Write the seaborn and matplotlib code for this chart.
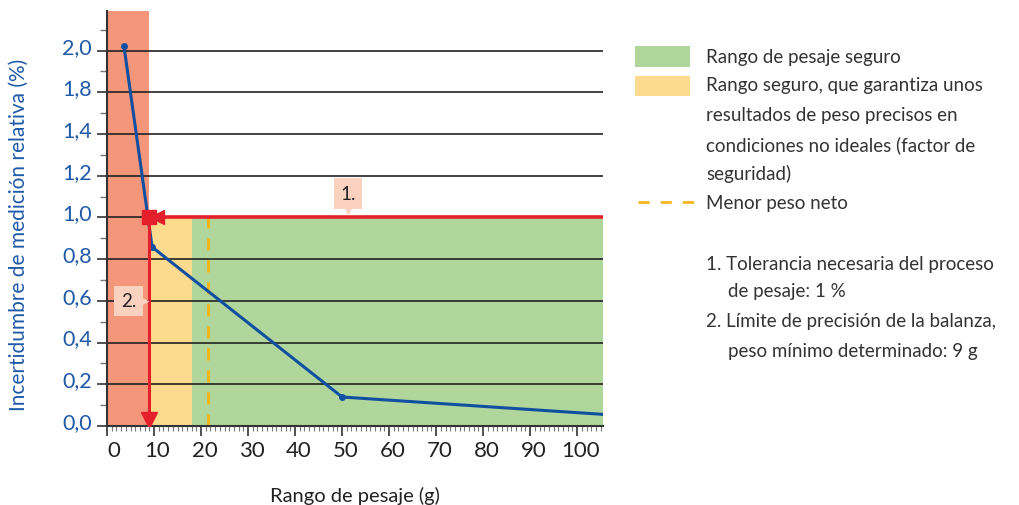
import matplotlib
matplotlib.use("Agg")
import matplotlib.pyplot as plt
import matplotlib.transforms as mtransforms
import seaborn as sns
import pandas as pd
from matplotlib.patches import Rectangle
from matplotlib.lines import Line2D
from matplotlib.ticker import MultipleLocator

# ---------------- data ----------------
weight_g = [3.6, 9.6, 50, 106]
uncertainty = [1.823, 0.858, 0.139, 0.055]
ytick_values = [0.0, 0.2, 0.4, 0.6, 0.8, 1.0, 1.2, 1.4, 1.6, 1.8]
ytick_labels = ["0,0", "0,2", "0,4", "0,6", "0,8", "1,0", "1,2", "1,4", "1,8", "2,0"]
xtick_values = [0, 10, 20, 30, 40, 50, 60, 70, 80, 90, 100]
min_weight = 9          # límite de precisión
safety_weight = 18      # fin del rango con factor de seguridad
net_weight = 21.5       # menor peso neto
tolerance = 1.0         # tolerancia 1 %
x_max = 105.5
y_max = 1.99

legend_items = ["Rango de pesaje seguro",
                "Rango seguro, que garantiza unos",
                "resultados de peso precisos en",
                "condiciones no ideales (factor de",
                "seguridad)",
                "Menor peso neto"]
notes = ["1. Tolerancia necesaria del proceso",
         "de pesaje: 1 %",
         "2. Límite de precisión de la balanza,",
         "peso mínimo determinado: 9 g"]

# ---------------- style ----------------
sns.set_style("ticks")
plt.rcParams['font.family'] = ['Lato', 'DejaVu Sans']

RED_BAND = "#F4967A"
YELLOW = "#FDDB8E"
GREEN = "#B0D69C"
RED = "#E3202B"
ORANGE = "#F3B71E"
BLUE = "#1150A0"
TXT = "#333333"
LBLUE = "#1F5AA8"

fig = plt.figure(figsize=(10.19, 5.06), dpi=100)
ax = fig.add_axes([107/1019, 1-427/506, 496/1019, 415/506])

# bands
ax.axvspan(0, min_weight, color=RED_BAND, lw=0, zorder=0.5)
ax.fill_between([min_weight, safety_weight], 0, tolerance, color=YELLOW, lw=0, zorder=0.5)
ax.fill_between([safety_weight, x_max], 0, tolerance, color=GREEN, lw=0, zorder=0.5)

# grid lines
for yv in ytick_values[1:]:
    ax.axhline(yv, color="#222222", lw=1.2, zorder=1.5)

# net weight dashed line
ax.plot([net_weight, net_weight], [0, tolerance], color=ORANGE, lw=2.2,
        dashes=(4, 3.2), zorder=1.8)

# blue uncertainty curve
df = pd.DataFrame({"w": weight_g, "u": uncertainty})
sns.lineplot(data=df, x="w", y="u", ax=ax, color=BLUE, lw=2.2, zorder=3,
             marker="o", markersize=5, markeredgewidth=0, markevery=[0, 1, 2])

# red tolerance line & min weight line
ax.plot([min_weight, x_max], [tolerance, tolerance], color=RED, lw=2.6, zorder=4,
        solid_capstyle="butt")
ax.plot([min_weight, min_weight], [0.05, tolerance], color=RED, lw=2.2, zorder=4)
ax.plot([min_weight], [tolerance], marker="s", ms=9.5, color=RED, mec=RED, zorder=5)
ax.plot([min_weight + 1.6], [tolerance], marker="<", ms=10, color=RED, mec=RED, zorder=5)
ax.plot([min_weight], [0.03], marker="v", ms=11, color=RED, mec=RED, zorder=5)

# callout boxes
BOX = "#FBD2C0"
ax.text(51.3, 1.115, "1.", ha="center", va="center", fontsize=13.5, color="#222222",
        bbox=dict(boxstyle="square,pad=0.35", fc=BOX, ec="none"), zorder=6)
ax.plot([51.3], [1.035], marker="v", ms=7, color=BOX, mec="none", zorder=6)
ax.text(4.6, 0.6, "2.", ha="center", va="center", fontsize=13.5, color="#222222",
        bbox=dict(boxstyle="square,pad=0.35", fc=BOX, ec="none"), zorder=6)
ax.plot([7.9], [0.6], marker=">", ms=7, color=BOX, mec="none", zorder=6)

# axes
ax.set_xlim(0, x_max)
ax.set_ylim(0, y_max)
ax.set_xticks(xtick_values)
ax.set_xticklabels([str(v) for v in xtick_values], fontsize=16, color="#222222")
ax.xaxis.set_minor_locator(MultipleLocator(1))
ax.set_yticks(ytick_values)
ax.set_yticklabels(ytick_labels, fontsize=15.5, color=LBLUE)
ax.yaxis.set_minor_locator(MultipleLocator(0.1))
ax.tick_params(axis="both", which="major", length=7, width=1.2, color="#333333", direction="out")
ax.tick_params(axis="y", which="minor", length=5, width=1.0, color="#777777", direction="out")
ax.tick_params(axis="x", which="minor", length=3.5, width=0.8, color="#777777", direction="out")
ax.tick_params(axis="y", which="major", pad=4)
ax.tick_params(axis="x", which="major", pad=3)
sns.despine(ax=ax)
for s in ["left", "bottom"]:
    ax.spines[s].set_color("#333333")
    ax.spines[s].set_linewidth(1.5)

# y tick labels sit slightly above their grid lines
up = mtransforms.ScaledTranslation(0, 0.06, fig.dpi_scale_trans)
for lab in ax.get_yticklabels():
    lab.set_transform(lab.get_transform() + up)
# x tick labels sit slightly right of their ticks
xl = ax.get_xticklabels()
for i, lab in enumerate(xl):
    dx = 0.065 if i == 0 else 0.035
    lab.set_transform(lab.get_transform() + mtransforms.ScaledTranslation(dx, 0, fig.dpi_scale_trans))

ax.set_xlabel("Rango de pesaje (g)", fontsize=14.5, color="#222222")
ax.xaxis.set_label_coords(0.5, -0.145)
ax.set_ylabel("Incertidumbre de medición relativa (%)", fontsize=15, color=LBLUE)
ax.yaxis.set_label_coords(-0.158, 0.463)

# legend (manual)
def fx(px):
    return px / 1019
def fy(py):
    return 1 - py / 506

fig.patches.append(Rectangle((fx(635), fy(68)), fx(690) - fx(635), fy(47) - fy(68),
                             transform=fig.transFigure, color=GREEN, lw=0))
fig.patches.append(Rectangle((fx(635), fy(97)), fx(690) - fx(635), fy(77) - fy(97),
                             transform=fig.transFigure, color=YELLOW, lw=0))
fig.lines.append(Line2D([fx(638), fx(695)], [fy(203), fy(203)], transform=fig.transFigure,
                        color=ORANGE, lw=2, dashes=(4, 4)))

legend_y = [57, 86, 116, 145, 174, 203]
for txt, py in zip(legend_items, legend_y):
    fig.text(fx(706), fy(py), txt, ha="left", va="center", fontsize=13.5, color=TXT)

notes_x = [706, 728, 706, 728]
notes_y = [265, 292, 322, 352]
for txt, px, py in zip(notes, notes_x, notes_y):
    fig.text(fx(px), fy(py), txt, ha="left", va="center", fontsize=13.5, color=TXT)

fig.savefig("out.png", dpi=100)
